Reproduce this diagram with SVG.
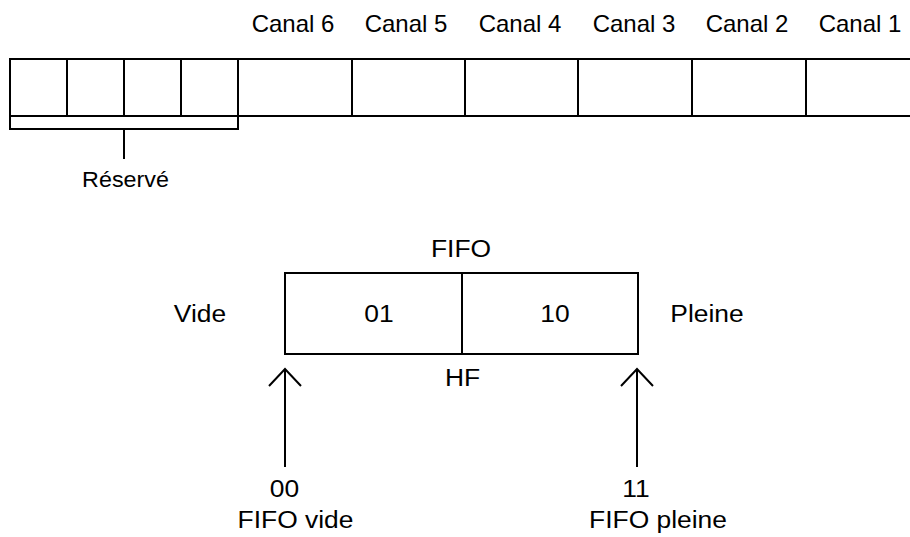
<svg xmlns="http://www.w3.org/2000/svg" width="910" height="537" viewBox="0 0 910 537">
<style>
  text { font-family: "Liberation Sans", Arial, sans-serif; font-size: 24px; fill: #000; text-anchor: middle; }
  .ln { fill: none; stroke: #000; stroke-width: 2; }
  .small { font-size: 22px; }
</style>
<rect width="910" height="537" fill="#fff"/>
<g id="canal-labels">
  <text x="293" y="32">Canal 6</text>
  <text x="406" y="32">Canal 5</text>
  <text x="520" y="32">Canal 4</text>
  <text x="634" y="32">Canal 3</text>
  <text x="747" y="32">Canal 2</text>
  <text x="860" y="32">Canal 1</text>
</g>
<g id="register">
  <path class="ln" d="M912 59 H10 V116 H912"/>
  <path class="ln" d="M67 59 V116 M124 59 V116 M181 59 V116 M238 59 V116 M352 59 V116 M465 59 V116 M578 59 V116 M692 59 V116 M806 59 V116"/>
</g>
<g id="reserve">
  <path class="ln" d="M10 116 V129 H238 V116 M124 129 V159"/>
  <text class="small" transform="translate(125.5 187) scale(1.06 1)">Réservé</text>
</g>
<g id="fifo">
  <text transform="translate(461 257) scale(1.1 1)">FIFO</text>
  <rect class="ln" x="285" y="273" width="353" height="81"/>
  <path class="ln" d="M462 273 V354"/>
  <text transform="translate(379 322) scale(1.1 1)">01</text>
  <text transform="translate(555 322) scale(1.1 1)">10</text>
  <text transform="translate(200 322) scale(1.1 1)">Vide</text>
  <text transform="translate(707 322) scale(1.1 1)">Pleine</text>
  <text transform="translate(462.5 386) scale(1.1 1)">HF</text>
</g>
<g id="connectors">
  <path class="ln" d="M285 467 V369 M269 386 L285 369 L301 386"/>
  <path class="ln" d="M637 467 V369 M621 386 L637 369 L653 386"/>
</g>
<g id="fifo-vide">
  <text transform="translate(284.5 497) scale(1.1 1)">00</text>
  <text transform="translate(295.5 528) scale(1.1 1)">FIFO vide</text>
</g>
<g id="fifo-pleine">
  <text transform="translate(636 497) scale(1.1 1)">11</text>
  <text transform="translate(658 528) scale(1.1 1)">FIFO pleine</text>
</g>
</svg>
